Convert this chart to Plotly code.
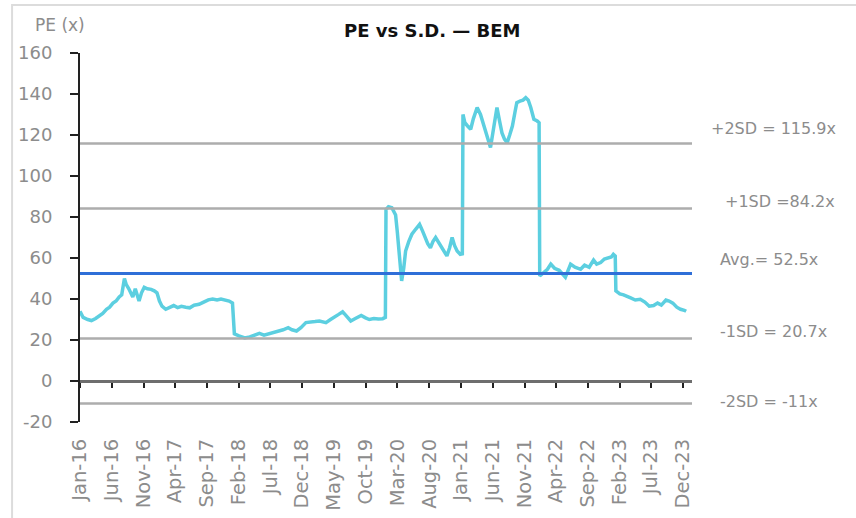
import plotly.graph_objects as go

# PE multiple of BEM (x), read as a time series
dates = [
    "2016-01-01", "2016-01-16", "2016-02-07", "2016-02-25", "2016-03-16", "2016-04-01",
    "2016-04-19", "2016-05-07", "2016-05-22", "2016-06-07", "2016-06-22", "2016-07-07",
    "2016-07-19", "2016-08-01", "2016-08-10", "2016-08-22", "2016-09-01", "2016-09-10",
    "2016-09-22", "2016-10-01", "2016-10-10", "2016-10-22", "2016-11-04", "2016-11-19",
    "2016-12-07", "2016-12-22", "2017-01-04", "2017-01-16", "2017-01-28", "2017-02-15",
    "2017-03-07", "2017-03-25", "2017-04-13", "2017-05-01", "2017-05-22", "2017-06-10",
    "2017-07-01", "2017-07-25", "2017-08-16", "2017-09-07", "2017-09-28", "2017-10-19",
    "2017-11-07", "2017-11-25", "2017-12-16", "2018-01-01", "2018-01-10", "2018-02-01",
    "2018-03-01", "2018-03-25", "2018-04-19", "2018-05-10", "2018-06-01", "2018-06-25",
    "2018-07-16", "2018-08-13", "2018-09-01", "2018-09-25", "2018-10-13", "2018-11-04",
    "2018-11-25", "2018-12-19", "2019-01-13", "2019-02-01", "2019-02-22", "2019-03-10",
    "2019-03-25", "2019-04-16", "2019-05-04", "2019-05-25", "2019-06-13", "2019-07-01",
    "2019-07-22", "2019-08-13", "2019-09-10", "2019-10-01", "2019-10-19", "2019-11-10",
    "2019-12-01", "2019-12-22", "2020-01-04", "2020-01-07", "2020-01-19", "2020-02-04",
    "2020-02-22", "2020-03-01", "2020-03-13", "2020-03-22", "2020-04-01", "2020-04-10",
    "2020-04-25", "2020-05-10", "2020-05-28", "2020-06-16", "2020-07-01", "2020-07-13",
    "2020-07-25", "2020-08-07", "2020-08-19", "2020-09-01", "2020-09-13", "2020-09-25",
    "2020-10-10", "2020-10-25", "2020-11-07", "2020-11-19", "2020-12-01", "2020-12-13",
    "2020-12-28", "2021-01-07", "2021-01-10", "2021-01-19", "2021-02-01", "2021-02-16",
    "2021-03-01", "2021-03-19", "2021-04-04", "2021-04-16", "2021-04-28", "2021-05-10",
    "2021-05-22", "2021-06-07", "2021-06-22", "2021-07-04", "2021-07-16", "2021-07-28",
    "2021-08-10", "2021-08-22", "2021-09-04", "2021-09-16", "2021-09-25", "2021-10-10",
    "2021-10-25", "2021-11-07", "2021-11-19", "2021-12-01", "2021-12-16", "2022-01-01",
    "2022-01-10", "2022-01-13", "2022-02-01", "2022-02-19", "2022-03-07", "2022-03-25",
    "2022-04-16", "2022-05-01", "2022-05-16", "2022-06-10", "2022-07-01", "2022-07-28",
    "2022-08-16", "2022-09-07", "2022-09-28", "2022-10-13", "2022-11-01", "2022-11-19",
    "2022-12-07", "2022-12-22", "2023-01-01", "2023-01-10", "2023-01-13", "2023-02-01",
    "2023-02-19", "2023-03-07", "2023-03-25", "2023-04-16", "2023-05-10", "2023-06-01",
    "2023-06-22", "2023-07-13", "2023-08-01", "2023-08-19", "2023-09-10", "2023-09-25",
    "2023-10-13", "2023-11-01", "2023-11-19", "2023-12-07", "2023-12-16",
]
pe = [
    34, 31, 30, 29.5, 30.5, 31.5,
    33, 35, 36, 38, 39, 41,
    42, 50, 47, 45, 43, 41,
    45, 42, 39, 43, 45.7, 45,
    44.7, 44, 43, 39, 36.5, 35,
    36, 36.8, 35.8, 36.4, 36, 35.7,
    37, 37.4, 38.5, 39.6, 40, 39.5,
    40, 39.6, 39, 38, 23, 22,
    21, 21.5, 22.6, 23.2, 22.4, 23,
    23.6, 24.4, 25, 26, 25, 24.4,
    26, 28.5, 29, 29, 29.3, 28.8,
    28.5, 30, 31, 32.5, 33.8, 31.5,
    29.3, 30.5, 32, 30.8, 30, 30.5,
    30.2, 30.4, 31, 83.7, 85, 84.5,
    81, 73, 58, 48.8, 55, 63.4,
    68, 71.6, 74, 76.4, 73, 70,
    67, 65, 68, 70, 68, 66.7,
    64, 61, 65, 70, 66, 63.4,
    61.8, 62, 130, 126, 124.4, 122.8,
    128, 133.4, 130, 126, 121, 117,
    113.9, 124, 133.4, 127, 121, 118,
    116.3, 120, 124.4, 131, 135.8, 136.5,
    137, 138.2, 137, 133.4, 127.7, 126.8,
    126, 51.2, 53, 54.5, 57, 55,
    54, 52.5, 50.6, 57, 55.5, 54.5,
    56.5, 55.5, 59, 57, 57.8, 59.5,
    60, 60.5, 61.8, 61, 44, 42.5,
    42, 41.5, 40.5, 39.5, 39.9, 38.5,
    36.5, 36.8, 38, 37, 39.5, 39,
    38, 36, 35, 34.5, 34,
]

# Mean and standard-deviation bands
band_names = ["+2SD", "+1SD", "Avg.", "-1SD", "-2SD"]
band_values = [115.9, 84.2, 52.5, 20.7, -11]
band_labels = ["+2SD = 115.9x", "+1SD =84.2x", "Avg.= 52.5x", "-1SD = 20.7x", "-2SD = -11x"]

# Axis ticks every five months
tick_dates = [
    "2016-01-01", "2016-06-01", "2016-11-01", "2017-04-01", "2017-09-01",
    "2018-02-01", "2018-07-01", "2018-12-01", "2019-05-01", "2019-10-01",
    "2020-03-01", "2020-08-01", "2021-01-01", "2021-06-01", "2021-11-01",
    "2022-04-01", "2022-09-01", "2023-02-01", "2023-07-01", "2023-12-01",
]
tick_text = [
    "Jan-16", "Jun-16", "Nov-16", "Apr-17", "Sep-17",
    "Feb-18", "Jul-18", "Dec-18", "May-19", "Oct-19",
    "Mar-20", "Aug-20", "Jan-21", "Jun-21", "Nov-21",
    "Apr-22", "Sep-22", "Feb-23", "Jul-23", "Dec-23",
]
y_ticks = [-20, 0, 20, 40, 60, 80, 100, 120, 140, 160]
y_tick_text = ["-20", "0", "20", "40", "60", "80", "100", "120", "140", "160"]
x_start, x_end = "2016-01-01", "2024-01-13"
y_min, y_max = -20, 160

FONT = "DejaVu Sans"
GREY_TEXT = "#8c8c8c"

fig = go.Figure()

fig.add_trace(go.Scatter(
    x=dates, y=pe, mode="lines", xaxis="x",
    line=dict(color="#5ccfe0", width=3.5), showlegend=False, hoverinfo="skip",
))

for name, val in zip(band_names, band_values):
    is_avg = name == "Avg."
    fig.add_trace(go.Scatter(
        x=[x_start, x_end], y=[val, val], mode="lines", xaxis="x2",
        line=dict(color="#2f6fd8" if is_avg else "#adadad", width=3 if is_avg else 2.5),
        showlegend=False, hoverinfo="skip",
    ))

# Band labels on the right, slightly above each line
label_x = [1.028, 1.0507, 1.0425, 1.0425, 1.0425]
label_shift = [15, 7, 14, 7, 2]
annotations = []
for txt, val, lx, sh in zip(band_labels, band_values, label_x, label_shift):
    annotations.append(dict(
        x=lx, xref="paper", y=val, yref="y", yshift=sh, text=txt, showarrow=False,
        xanchor="left", yanchor="middle", font=dict(family=FONT, size=16, color=GREY_TEXT),
    ))
annotations.append(dict(
    x=-0.0768, xref="paper", y=1.076, yref="paper", text="PE (x)", showarrow=False,
    xanchor="left", yanchor="middle", font=dict(family=FONT, size=17, color=GREY_TEXT),
))

zero_pos = (0 - y_min) / (y_max - y_min)

fig.update_layout(
    width=856, height=518,
    margin=dict(l=80, r=164, t=53, b=96),
    paper_bgcolor="white", plot_bgcolor="white",
    title=dict(text="<b>PE vs S.D. — BEM</b>", x=0.505, xanchor="center", y=0.94, yanchor="middle",
               font=dict(family=FONT, size=18, color="#111111")),
    xaxis=dict(
        type="date", range=[x_start, x_end], tickvals=tick_dates, ticktext=tick_text,
        tickangle=-90, showgrid=False, zeroline=False, showline=False, ticks="",
        automargin=False,
        ticklabelstandoff=12, tickfont=dict(family=FONT, size=19.5, color=GREY_TEXT),
    ),
    xaxis2=dict(
        type="date", range=[x_start, x_end], tickvals=tick_dates, overlaying="x",
        anchor="free", position=zero_pos, side="bottom", showticklabels=False,
        ticks="outside", ticklen=5, tickwidth=2, tickcolor="#222222", automargin=False,
        showline=True, linecolor="#6e6e6e", linewidth=3, showgrid=False, zeroline=False,
    ),
    yaxis=dict(
        range=[y_min, y_max], tickvals=y_ticks, ticktext=y_tick_text,
        showgrid=False, zeroline=False, automargin=False,
        showline=True, linecolor="#222222", linewidth=2,
        ticks="outside", ticklen=8, tickwidth=2, tickcolor="#222222",
        ticklabelstandoff=14, tickfont=dict(family=FONT, size=18, color=GREY_TEXT),
    ),
    annotations=annotations,
    shapes=[dict(
        type="rect", xref="paper", yref="paper", x0=-0.111, x1=1.4, y0=-0.5, y1=1.130,
        line=dict(color="#dcdcdc", width=2), fillcolor="rgba(0,0,0,0)", layer="below",
    )],
)

fig.write_html("out.html")
